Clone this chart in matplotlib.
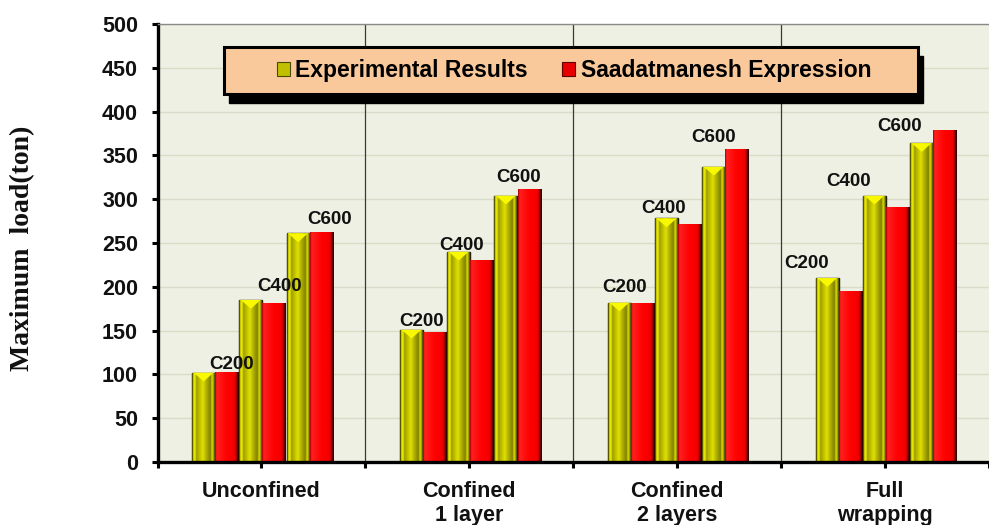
import matplotlib
matplotlib.use("Agg")
import matplotlib.pyplot as plt
import numpy as np
from matplotlib.colors import to_rgb
from matplotlib.patches import Patch, Polygon, Rectangle

categories = ["Unconfined", "Confined\n1 layer", "Confined\n2 layers", "Full\nwrapping"]
specimens = ["C200", "C400", "C600"]
experimental = [[102, 185, 261], [151, 240, 304], [182, 278, 337], [210, 304, 364]]
saadatmanesh = [[103, 182, 263], [148, 231, 312], [181, 272, 357], [195, 291, 379]]

# specimen label placement inside each group: (x within group, lift above pair top)
label_x = [[0.356, 0.585, 0.828], [0.272, 0.461, 0.738],
           [0.246, 0.434, 0.676], [0.122, 0.325, 0.570]]
label_lift = [[8, 15, 14], [9, 7, 13], [17, 11, 14], [17, 16, 4]]

SANS = "Liberation Sans"
SERIF = "Liberation Serif"

YELLOW_STOPS = [(0.00, "#202000"), (0.05, "#d0d000"), (0.12, "#f2f200"), (0.18, "#9c9c00"),
                (0.30, "#bcbc00"), (0.45, "#e0e000"), (0.60, "#b0b000"), (0.78, "#808000"),
                (0.84, "#e0e000"), (0.90, "#a8a800"), (0.96, "#404000"), (1.00, "#101000")]
RED_STOPS = [(0.00, "#a00000"), (0.06, "#ff2020"), (0.50, "#ff0000"), (0.82, "#f00000"),
             (0.90, "#b00000"), (0.96, "#400000"), (1.00, "#200000")]


def gradient(stops, n=64):
    pos = np.array([s[0] for s in stops])
    cols = np.array([to_rgb(s[1]) for s in stops])
    t = np.linspace(0, 1, n)
    rgb = np.stack([np.interp(t, pos, cols[:, k]) for k in range(3)], axis=-1)
    return rgb[np.newaxis, :, :]


def shade_bars(ax, bars, stops):
    img = gradient(stops)
    for b in bars:
        x0, w, h = b.get_x(), b.get_width(), b.get_height()
        im = ax.imshow(img, extent=[x0, x0 + w, 0, h], aspect="auto",
                       interpolation="bilinear", zorder=2.5)
        im.set_clip_path(b)


fig = plt.figure(figsize=(9.89, 5.25), dpi=100)
fig.patch.set_facecolor("white")
ax = fig.add_axes([157.5 / 989, 63 / 525, (989 - 157.5) / 989, 438 / 525])
ax.set_facecolor("#eef0e3")

n_groups = len(categories)
bar_w = 0.111
pair_offsets = np.array([0.278, 0.505, 0.732])

exp = np.array(experimental)
saa = np.array(saadatmanesh)
for g in range(n_groups):
    centers = g + pair_offsets
    yb = ax.bar(centers - bar_w / 2, exp[g], bar_w, color="#c8c800",
                edgecolor="#111100", linewidth=1.0, zorder=2)
    rb = ax.bar(centers + bar_w / 2, saa[g], bar_w, color="#ff0000",
                edgecolor="none", zorder=2)
    shade_bars(ax, yb, YELLOW_STOPS)
    shade_bars(ax, rb, RED_STOPS)
    # bevel highlight on the yellow tops
    for b in yb:
        x0, w, h = b.get_x(), b.get_width(), b.get_height()
        ax.add_patch(Polygon([(x0 + 0.06 * w, h), (x0 + 0.92 * w, h), (x0 + 0.5 * w, h - 10)],
                             closed=True, facecolor="#f8f800", edgecolor="none", zorder=3))
    for k, name in enumerate(specimens):
        top = max(exp[g][k], saa[g][k])
        ax.text(g + label_x[g][k], top + label_lift[g][k], name, ha="center", va="center",
                fontsize=13.5, fontweight="bold", family=SANS, color="#111111", zorder=5)

ax.set_xlim(0, 3.96)
ax.set_ylim(0, 500)

# grid and group separators
ax.set_yticks(np.arange(0, 501, 50))
ax.yaxis.grid(True, color="#d9dcc8", linewidth=1.0, zorder=0)
ax.set_axisbelow(True)
for g in range(1, n_groups):
    ax.axvline(g, color="#3a3a3a", linewidth=0.9, zorder=1)

ax.set_xticks(np.arange(n_groups) + 0.5)
ax.set_xticklabels(categories)
ax.set_xticks(np.arange(n_groups + 1), minor=True)
for axis_ticks in ("major", "minor"):
    ax.tick_params(axis="x", which=axis_ticks, direction="out", length=4, width=2.2,
                   color="black", pad=10)
ax.tick_params(axis="y", direction="out", length=4, width=2.2, color="black", pad=10)
for lab in ax.get_xticklabels() + ax.get_yticklabels():
    lab.set_fontfamily(SANS)
    lab.set_fontweight("bold")
    lab.set_color("#111111")
for lab in ax.get_xticklabels():
    lab.set_fontsize(15.5)
    lab.set_linespacing(1.15)
for lab in ax.get_yticklabels():
    lab.set_fontsize(15.5)

for side in ("left", "bottom"):
    ax.spines[side].set_linewidth(2.4)
    ax.spines[side].set_color("black")
ax.spines["top"].set_color("#8a8a8a")
ax.spines["top"].set_linewidth(1.0)
ax.spines["right"].set_visible(False)

# legend box with a hard drop shadow
ax_px_w, ax_px_h = 989 - 157.5, 438
bx0, bx1 = (224 - 157.5) / ax_px_w, (918 - 157.5) / ax_px_w
by0, by1 = (462 - 94) / ax_px_h, (462 - 47) / ax_px_h
ax.add_patch(Rectangle((bx0 + 5 / ax_px_w, by0 - 9 / ax_px_h), bx1 - bx0, by1 - by0,
                       transform=ax.transAxes, facecolor="black", edgecolor="black",
                       zorder=6, clip_on=False))
ax.add_patch(Rectangle((bx0, by0), bx1 - bx0, by1 - by0, transform=ax.transAxes,
                       facecolor="#f9c99c", edgecolor="black", linewidth=2.2,
                       zorder=6.5, clip_on=False))
handles = [Patch(facecolor="#c0c000", edgecolor="#4a4a00", linewidth=0.8),
           Patch(facecolor="#e80000", edgecolor="#600000", linewidth=0.8)]
leg = ax.legend(handles, ["Experimental Results", "Saadatmanesh Expression"], ncol=2,
                loc="center", bbox_to_anchor=((bx0 + bx1) / 2 + 3 / ax_px_w, (by0 + by1) / 2),
                frameon=False, handlelength=0.55, handleheight=0.55, handletextpad=0.25,
                columnspacing=1.5, prop={"family": SANS, "weight": "bold", "size": 16.5})
leg.set_zorder(7)

fig.text(23 / 989, 1 - 248 / 525, "Maximum  load(ton)", rotation=90, ha="center", va="center",
         fontsize=20, fontweight="bold", family=SERIF, color="#111111")

fig.savefig("out.png", dpi=100, facecolor="white")
